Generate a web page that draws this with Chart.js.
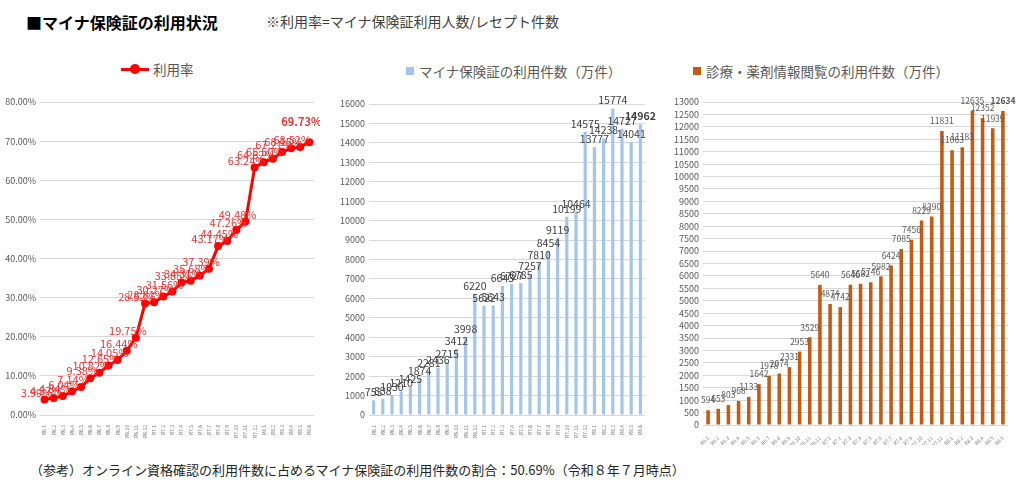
<!DOCTYPE html>
<html lang="ja">
<head>
<meta charset="utf-8">
<script src="https://cdn.jsdelivr.net/npm/chart.js@4.4.1/dist/chart.umd.min.js"></script>
<style>
  body {
    margin: 0;
    width: 1017px;
    height: 484px;
    background: #fff;
    position: relative;
    overflow: hidden;
    font-family: "Noto Sans CJK JP", "Noto Sans", sans-serif;
  }
  .abs { position: absolute; white-space: nowrap; }
  #title { left: 26px; top: 10px; font-size: 16px; font-weight: bold; color: #000; }
  #note { left: 266px; top: 11px; font-size: 14px; color: #404040; }
  #foot { left: 30px; top: 460px; font-size: 13px; color: #262626; }
  .legend { font-size: 13.5px; color: #595959; display: flex; align-items: center; }
  .sw { display: inline-block; width: 8px; height: 8px; margin-right: 5px; }
  .ln { display: inline-block; width: 28px; height: 3px; background: #ff0000; position: relative; margin-right: 4px; }
  .ln::after { content: ""; position: absolute; left: 9px; top: -3.5px; width: 10px; height: 10px; border-radius: 50%; background: #ff0000; }
  canvas { position: absolute; }
</style>
</head>
<body>
<div id="title" class="abs">■マイナ保険証の利用状況</div>
<div id="note" class="abs">※利用率=マイナ保険証利用人数/レセプト件数</div>

<div class="abs legend" style="left:121px; top:59px;"><span class="ln"></span>利用率</div>
<div class="abs legend" style="left:406px; top:61px;"><span class="sw" style="background:#a4c6ec"></span>マイナ保険証の利用件数（万件）</div>
<div class="abs legend" style="left:693px; top:61px;"><span class="sw" style="background:#c55a11"></span>診療・薬剤情報閲覧の利用件数（万件）</div>

<canvas id="rateChart" width="320" height="350" style="left:0px; top:90px;"></canvas>
<canvas id="cardChart" width="330" height="350" style="left:330px; top:90px;"></canvas>
<canvas id="viewChart" width="357" height="355" style="left:660px; top:90px;"></canvas>

<div id="foot" class="abs">（参考）オンライン資格確認の利用件数に占めるマイナ保険証の利用件数の割合：50.69%（令和８年７月時点）</div>

<script>
const months = [
  "R6.1", "R6.2", "R6.3", "R6.4", "R6.5", "R6.6", "R6.7", "R6.8", "R6.9", "R6.10", "R6.11", "R6.12",
  "R7.1", "R7.2", "R7.3", "R7.4", "R7.5", "R7.6", "R7.7", "R7.8", "R7.9", "R7.10", "R7.11", "R7.12",
  "R8.1", "R8.2", "R8.3", "R8.4", "R8.5", "R8.6"
];

// 利用率 (%)
const usageRate = [
  3.99, 4.37, 4.84, 6.04, 7.14, 9.38, 10.82, 12.65, 14.05, 16.44, 19.75, 28.52,
  28.81, 30.27, 31.56, 33.85, 34.31, 35.68, 37.39, 43.17, 44.45, 47.26, 49.48, 63.24,
  64.62, 65.50, 67.21, 68.15, 68.52, 69.73
];

// マイナ保険証の利用件数（万件）
const cardUses = [
  753, 838, 1030, 1210, 1425, 1874, 2281, 2436, 2715, 3412, 3998, 6220,
  5622, 5643, 6643, 6727, 6785, 7257, 7810, 8454, 9119, 10199, 10464, 14575,
  13777, 14238, 15774, 14727, 14041, 14962
];

// 診療・薬剤情報閲覧の利用件数（万件）
const infoViews = [
  594, 653, 803, 968, 1133, 1642, 1978, 2074, 2331, 2953, 3529, 5640,
  4874, 4742, 5646, 5682, 5746, 5982, 6424, 7085, 7456, 8229, 8390, 11831,
  11063, 11183, 12635, 12352, 11939, 12634
];

const FONT = '"Noto Sans CJK JP", "Noto Sans", sans-serif';
const GRID = "#d9d9d9";
const TICK = "#595959";

// draws the value next to each point / bar, last one in bold
const valueLabels = {
  id: "valueLabels",
  afterDatasetsDraw(chart, args, opts) {
    const ctx = chart.ctx;
    const data = chart.data.datasets[0].data;
    const meta = chart.getDatasetMeta(0);
    ctx.save();
    ctx.fillStyle = opts.color;
    ctx.textAlign = "center";
    ctx.textBaseline = "middle";
    meta.data.forEach(function (el, i) {
      const last = i === data.length - 1;
      ctx.font = (last ? "bold " : "") + opts.size + "px " + FONT;
      let dy = opts.dy;
      if (last && opts.lastDy !== undefined) dy = opts.lastDy;
      ctx.fillText(opts.format(data[i]), el.x + opts.dx, el.y + dy);
    });
    ctx.restore();
  },
};

function fixedAxis(width, height) {
  return function (scale) {
    if (width !== undefined) scale.width = width;
    if (height !== undefined) scale.height = height;
  };
}

function xScale(offset, rotation, h) {
  return {
    offset: offset,
    grid: { display: false },
    border: { display: false },
    afterFit: fixedAxis(undefined, h),
    ticks: {
      autoSkip: false,
      minRotation: rotation,
      maxRotation: rotation,
      padding: 2,
      color: "#7f7f7f",
      font: { family: FONT, size: 5 },
    },
  };
}

function yScale(max, step, w, fmt) {
  return {
    min: 0,
    max: max,
    afterFit: fixedAxis(w, undefined),
    border: { display: false },
    grid: { color: GRID, lineWidth: 1, drawTicks: false },
    ticks: {
      stepSize: step,
      autoSkip: false,
      padding: 4,
      color: TICK,
      font: { family: FONT, size: 9 },
      callback: fmt,
    },
  };
}

new Chart(document.getElementById("rateChart"), {
  type: "line",
  data: {
    labels: months,
    datasets: [
      {
        label: "利用率",
        data: usageRate,
        borderColor: "#ff0000",
        backgroundColor: "#ff0000",
        borderWidth: 3,
        pointRadius: 4,
        pointBackgroundColor: "#ff0000",
        pointBorderWidth: 0,
        tension: 0,
      },
    ],
  },
  options: {
    responsive: false,
    animation: false,
    layout: { padding: { top: 12, right: 6, left: 0, bottom: 0 } },
    plugins: {
      legend: { display: false },
      tooltip: { enabled: false },
      valueLabels: {
        color: "#ff2a2a",
        size: 11,
        dx: -8,
        dy: -7,
        lastDy: -20,
        format: (v) => v.toFixed(2) + "%",
      },
    },
    scales: {
      x: xScale(true, 90, 25),
      y: yScale(80, 10, 40, (v) => v.toFixed(2) + "%"),
    },
  },
  plugins: [valueLabels],
});

new Chart(document.getElementById("cardChart"), {
  type: "bar",
  data: {
    labels: months,
    datasets: [
      {
        label: "マイナ保険証の利用件数（万件）",
        data: cardUses,
        backgroundColor: "#a4c6ec",
        barPercentage: 0.35,
        categoryPercentage: 1,
      },
    ],
  },
  options: {
    responsive: false,
    animation: false,
    layout: { padding: { top: 14, right: 15, left: 0, bottom: 0 } },
    plugins: {
      legend: { display: false },
      tooltip: { enabled: false },
      valueLabels: {
        color: "#404040",
        size: 10.5,
        dx: 0,
        dy: -8,
        format: (v) => String(v),
      },
    },
    scales: {
      x: xScale(true, 90, 25),
      y: yScale(16000, 1000, 39, (v) => String(v)),
    },
  },
  plugins: [valueLabels],
});

new Chart(document.getElementById("viewChart"), {
  type: "bar",
  data: {
    labels: months,
    datasets: [
      {
        label: "診療・薬剤情報閲覧の利用件数（万件）",
        data: infoViews,
        backgroundColor: "#c55a11",
        barPercentage: 0.35,
        categoryPercentage: 1,
      },
    ],
  },
  options: {
    responsive: false,
    animation: false,
    layout: { padding: { top: 12, right: 9, left: 0, bottom: 0 } },
    plugins: {
      legend: { display: false },
      tooltip: { enabled: false },
      valueLabels: {
        color: "#595959",
        size: 8.5,
        dx: 0,
        dy: -10,
        format: (v) => String(v),
      },
    },
    scales: {
      x: xScale(true, 45, 20),
      y: yScale(13000, 500, 43, (v) => String(v)),
    },
  },
  plugins: [valueLabels],
});
</script>
</body>
</html>
